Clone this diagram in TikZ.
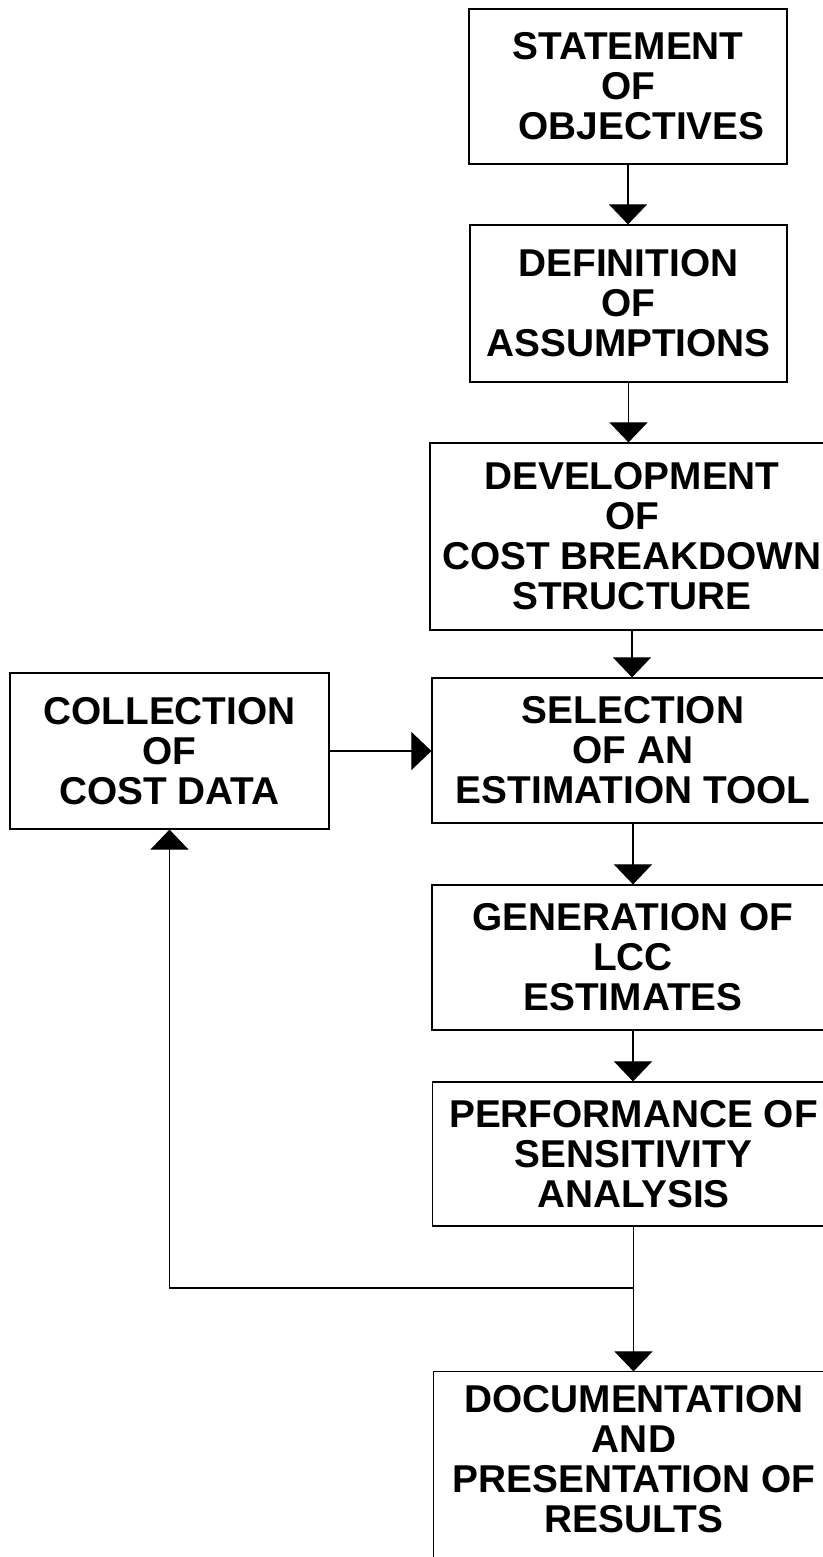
\documentclass[tikz,border=0pt]{standalone}
\usepackage{fontspec}
\setmainfont{Liberation Sans}
\usetikzlibrary{arrows.meta}

\begin{document}
\begin{tikzpicture}[x=0.5pt,y=-0.5pt,
    stage/.style={draw=black,line width=0.6pt,align=center,inner sep=0pt},
    flow/.style={line width=0.55pt,-{Triangle[width=19pt,length=10pt]}}]
	\fontsize{19.4}{20}\selectfont\bfseries

    \path[use as bounding box,clip] (0,0) rectangle (823,1557);

    % Place the nodes
    \node[stage,minimum width=159pt,minimum height=77.5pt] (obj)   at (628,86.5)   {STATEMENT\\OF\\\hspace*{0.7em}OBJECTIVES};
    \node[stage,minimum width=158.5pt,minimum height=78.5pt] (assum) at (628.5,303.5) {DEFINITION\\OF\\ASSUMPTIONS};
    \node[stage,minimum width=202pt,minimum height=93.5pt] (cbs)   at (632,536.5)  {DEVELOPMENT\\OF\\COST BREAKDOWN\\STRUCTURE};
    \node[stage,minimum width=201pt,minimum height=72.5pt] (tool)  at (633,750.5)  {SELECTION\\OF AN\\ESTIMATION TOOL};
    \node[stage,minimum width=159.5pt,minimum height=78pt] (data)  at (169.5,751)  {COLLECTION\\OF\\COST DATA};
    \node[stage,minimum width=201pt,minimum height=72.5pt] (lcc)   at (633,957.5)  {GENERATION OF\\LCC\\ESTIMATES};
    \node[stage,minimum width=201pt,minimum height=72pt] (sens)  at (633.5,1154) {PERFORMANCE OF\\SENSITIVITY\\ANALYSIS};
    \node[stage,draw=none,minimum width=200pt,minimum height=87pt] (doc) at (634,1459) {DOCUMENTATION\\AND\\PRESENTATION OF\\RESULTS};
    \draw[line width=0.6pt] ([yshift=-20pt]doc.south west) -- (doc.north west) -- (doc.north east);

    % Draw the lines
    \draw[flow] (obj.south) -- (obj.south |- assum.north);
    \draw[flow] (assum.south) -- (assum.south |- cbs.north);
    \draw[flow] (cbs.south) -- (cbs.south |- tool.north);
    \draw[flow] (tool.south) -- (tool.south |- lcc.north);
    \draw[flow] (lcc.south) -- (lcc.south |- sens.north);
    \draw[flow] (sens.south) -- (sens.south |- doc.north);
    \draw[flow] (data.east) -- (data.east -| tool.west);

    % Finally the loop back
    \coordinate (split) at (sens.south |- 0,1288);
    \draw[flow] (split) -| (data.south);

\end{tikzpicture}
\end{document}
